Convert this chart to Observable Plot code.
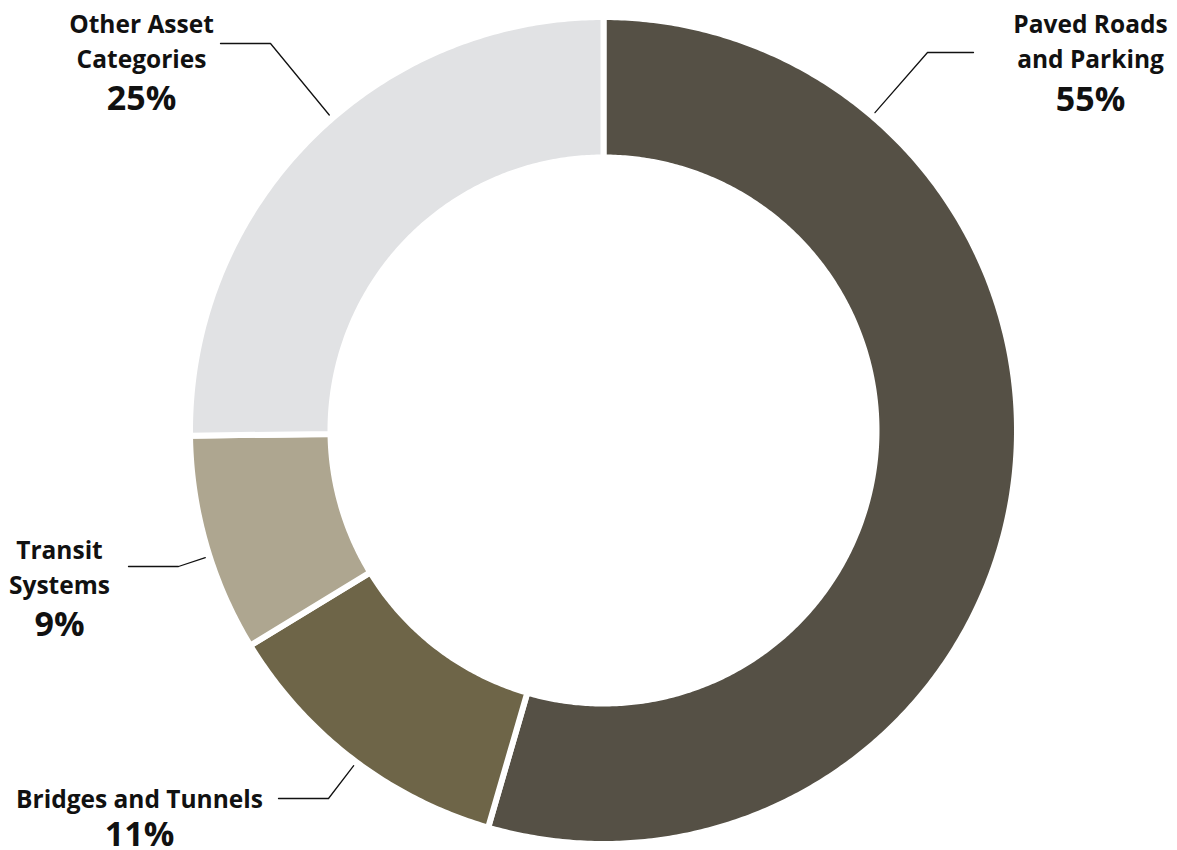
<!DOCTYPE html>
<html><head><meta charset="utf-8">
<script src="https://cdn.jsdelivr.net/npm/d3@7"></script>
<script src="https://cdn.jsdelivr.net/npm/@observablehq/plot@0.6"></script>
<style>html,body{margin:0;padding:0;background:#fff} svg{display:block}</style>
</head><body><div id="chart"></div>
<script>
// ---- data ----
const categories = ["Paved Roads and Parking", "Bridges and Tunnels", "Transit Systems", "Other Asset Categories"];
const shares = [54.5, 11.8, 8.5, 25.2];
const nameLines = ["Paved Roads\nand Parking", "Bridges and Tunnels", "Transit\nSystems", "Other Asset\nCategories"];
const percentLabels = ["55%", "11%", "9%", "25%"];
const colors = ["#555045", "#6e6548", "#aea690", "#e1e2e4"];

// ---- layout ----
const W = 1177, H = 850;
const cx = 603, cy = 430;
const outerR = 413.5, innerR = 273;   // drawn radii (white 6px stroke trims 3px)
const leaderR = 418;
const labelLayout = [
  {angle: 40.5,  elbow: [927, 52],  end: [973, 52],  x: 1090, nameY: 67,  pctY: 110},
  {angle: 216.7, elbow: [328, 798], end: [278, 798], x: 139,  nameY: 807, pctY: 845},
  {angle: 252.3, elbow: [178, 566], end: [128, 566], x: 59,   nameY: 593, pctY: 635},
  {angle: 319,   elbow: [270, 43],  end: [220, 43],  x: 141,  nameY: 67,  pctY: 109}
];

// ---- build slice polygons ----
const arcs = d3.pie().sort(null).value(d => d)(shares);
const slicePts = [];
arcs.forEach((a, i) => {
  const n = Math.max(8, Math.ceil((a.endAngle - a.startAngle) / (Math.PI / 360)));
  for (let k = 0; k <= n; k++) {
    const t = a.startAngle + (a.endAngle - a.startAngle) * k / n;
    slicePts.push({cat: categories[i], x: cx + outerR * Math.sin(t), y: cy - outerR * Math.cos(t)});
  }
  for (let k = n; k >= 0; k--) {
    const t = a.startAngle + (a.endAngle - a.startAngle) * k / n;
    slicePts.push({cat: categories[i], x: cx + innerR * Math.sin(t), y: cy - innerR * Math.cos(t)});
  }
  const t0 = a.startAngle;
  slicePts.push({cat: categories[i], x: cx + outerR * Math.sin(t0), y: cy - outerR * Math.cos(t0)});
});

const leaderPts = [];
labelLayout.forEach((L, i) => {
  const t = L.angle * Math.PI / 180;
  leaderPts.push({cat: categories[i], x: cx + leaderR * Math.sin(t), y: cy - leaderR * Math.cos(t)});
  leaderPts.push({cat: categories[i], x: L.elbow[0], y: L.elbow[1]});
  leaderPts.push({cat: categories[i], x: L.end[0], y: L.end[1]});
});

const nameData = categories.map((c, i) => ({cat: c, text: nameLines[i], x: labelLayout[i].x, y: labelLayout[i].nameY}));
const pctData = categories.map((c, i) => ({cat: c, text: percentLabels[i], x: labelLayout[i].x, y: labelLayout[i].pctY}));

const font = "'Open Sans', 'Noto Sans', sans-serif";

const chart = Plot.plot({
  width: W, height: H,
  margin: 0,
  x: {domain: [0, W], range: [0, W], axis: null},
  y: {domain: [0, H], range: [0, H], axis: null},
  color: {domain: categories, range: colors},
  style: {background: "#fff", fontFamily: font},
  marks: [
    Plot.line(slicePts, {x: "x", y: "y", z: "cat", fill: "cat", stroke: "#fff", strokeWidth: 6, strokeLinejoin: "round", curve: "linear"}),
    Plot.line(leaderPts, {x: "x", y: "y", z: "cat", stroke: "#111", strokeWidth: 1.3, curve: "linear"}),
    Plot.text(nameData, {x: "x", y: "y", text: "text", textAnchor: "middle", lineAnchor: "bottom", lineHeight: 1.4, fontSize: 24.5, fontWeight: 700, fontFamily: font, fill: "#111"}),
    Plot.text(pctData, {x: "x", y: "y", text: "text", textAnchor: "middle", lineAnchor: "bottom", fontSize: 34, fontWeight: 700, fontFamily: font, fill: "#111"})
  ]
});
document.getElementById("chart").appendChild(chart);
</script>
</body></html>
